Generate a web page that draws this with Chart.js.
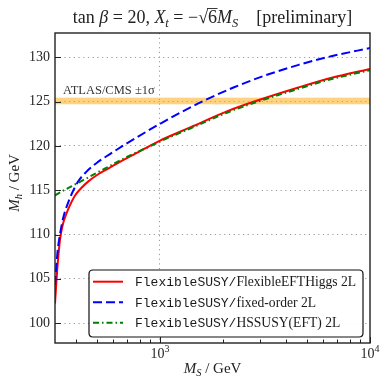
<!DOCTYPE html>
<html><head><meta charset="utf-8">
<script src="https://cdn.jsdelivr.net/npm/chart.js@4.4.1/dist/chart.umd.min.js"></script>
<style>html,body{margin:0;padding:0;background:#fff;}#wrap{width:380px;height:378px;position:relative;}</style>
</head><body><div id="wrap"><canvas id="c" width="380" height="378"></canvas></div>
<script>
// ---- data ----
const msRed   = [316.2, 324, 334, 346, 359, 366, 394, 424, 456, 508, 567, 657, 746, 848, 1000, 1245, 1442, 2080, 2884, 4560, 6574, 10000];
const mhRed   = [102.2, 106.0, 109.4, 111.3, 112.4, 112.9, 114.4, 115.3, 116.0, 116.8, 117.45, 118.3, 119.0, 119.72, 120.6, 121.6, 122.25, 123.9, 125.1, 126.6, 127.7, 128.7];
const msBlue  = [316.2, 325, 335, 347, 360, 380, 408, 447, 501, 575, 708, 1000, 1259, 1585, 2239, 3162, 4571, 6607, 10000];
const mhBlue  = [104.3, 108.0, 110.2, 112.0, 113.2, 114.6, 116.0, 117.1, 118.1, 119.05, 120.4, 122.5, 123.8, 125.0, 126.6, 127.95, 129.15, 130.15, 131.05];
const msGreen = [316.2, 340, 394, 456, 508, 578, 657, 746, 848, 1000, 1442, 2080, 2884, 4560, 6574, 10000];
const mhGreen = [114.4, 114.85, 115.65, 116.45, 117.05, 117.75, 118.45, 119.1, 119.7, 120.5, 122.12, 123.75, 124.95, 126.45, 127.55, 128.55];
const yTicks  = [100, 105, 110, 115, 120, 125, 130];
const xMajor  = [1000, 10000];
const xMajorExp = ['3', '4'];
const xMinor  = [400, 500, 600, 700, 800, 900, 2000, 3000, 4000, 5000, 6000, 7000, 8000, 9000];
const bandLow = 124.7, bandHigh = 125.45;
const bandLabel = 'ATLAS/CMS \u00b11\u03c3';
const legendPrefix = 'FlexibleSUSY/';
const legendNames = ['FlexibleEFTHiggs 2L', 'fixed-order 2L', 'HSSUSY(EFT) 2L'];
const xMin = 316.228, xMax = 10000, yMin = 97.75, yMax = 132.75;

const SERIF = '"Liberation Serif", "DejaVu Serif", serif';
const MONO = '"Liberation Mono", "DejaVu Sans Mono", monospace';
const colors = ['#ff0000', '#0000ff', '#008000'];
const dashes = [[], [9, 4], [6, 3, 1.5, 3]];

function pts(xs, ys) { return xs.map((x, i) => ({x: x, y: ys[i]})); }

function drawRich(ctx, segs, x, y, align) {
  let w = 0;
  segs.forEach(s => { ctx.font = s.font; s.w = ctx.measureText(s.t).width; w += s.w; });
  let cx = align === 'center' ? x - w / 2 : (align === 'right' ? x - w : x);
  ctx.textAlign = 'left'; ctx.textBaseline = 'alphabetic';
  segs.forEach(s => {
    ctx.font = s.font;
    ctx.fillText(s.t, cx, y + (s.dy || 0));
    if (s.over) {
      ctx.save(); ctx.lineWidth = 0.9; ctx.strokeStyle = ctx.fillStyle;
      ctx.beginPath(); ctx.moveTo(cx - 1, y - s.over); ctx.lineTo(cx + s.w + 0.5, y - s.over); ctx.stroke(); ctx.restore();
    }
    cx += s.w;
  });
}

const decor = {
  id: 'decor',
  beforeDatasetsDraw(chart) {
    const {ctx, chartArea: a, scales: {y}} = chart;
    const y1 = y.getPixelForValue(bandHigh), y2 = y.getPixelForValue(bandLow);
    ctx.save();
    ctx.fillStyle = 'rgba(255,165,0,0.5)';
    ctx.fillRect(a.left, y1, a.right - a.left, y2 - y1);
    ctx.fillStyle = '#333';
    ctx.font = '12.5px ' + SERIF;
    ctx.textAlign = 'left'; ctx.textBaseline = 'alphabetic';
    ctx.fillText(bandLabel, a.left + 8, y1 - 3.8);
    ctx.restore();
  },
  afterDatasetsDraw(chart) {
    const {ctx, chartArea: a, scales: {x, y}} = chart;
    ctx.save();
    // frame
    ctx.strokeStyle = '#222'; ctx.lineWidth = 1.4;
    ctx.strokeRect(a.left, a.top, a.right - a.left, a.bottom - a.top);
    // inward ticks
    ctx.lineWidth = 1;
    ctx.beginPath();
    xMajor.forEach(v => { const px = Math.round(x.getPixelForValue(v)) + 0.5; ctx.moveTo(px, a.bottom); ctx.lineTo(px, a.bottom - 6); });
    xMinor.forEach(v => { const px = Math.round(x.getPixelForValue(v)) + 0.5; ctx.moveTo(px, a.bottom); ctx.lineTo(px, a.bottom - 3.5); });
    yTicks.forEach(v => { const py = Math.round(y.getPixelForValue(v)) + 0.5; ctx.moveTo(a.left, py); ctx.lineTo(a.left + 6, py); });
    ctx.stroke();
    // x tick labels
    ctx.fillStyle = '#262626';
    xMajor.forEach((v, i) => {
      const px = x.getPixelForValue(v);
      drawRich(ctx, [{t: '10', font: '14px ' + SERIF}, {t: xMajorExp[i], font: '10px ' + SERIF, dy: -6}], px, 358, 'center');
    });
    // axis titles
    ctx.fillStyle = '#222';
    drawRich(ctx, [
      {t: 'M', font: 'italic 15px ' + SERIF},
      {t: 'S', font: 'italic 10.5px ' + SERIF, dy: 3},
      {t: ' / GeV', font: '15px ' + SERIF}
    ], (a.left + a.right) / 2, 373, 'center');
    ctx.save();
    ctx.translate(19, 183); ctx.rotate(-Math.PI / 2);
    drawRich(ctx, [
      {t: 'M', font: 'italic 15px ' + SERIF},
      {t: 'h', font: 'italic 10.5px ' + SERIF, dy: 3},
      {t: ' / GeV', font: '15px ' + SERIF}
    ], 0, 0, 'center');
    ctx.restore();
    // title
    drawRich(ctx, [
      {t: 'tan ', font: '18px ' + SERIF},
      {t: '\u03b2', font: 'italic 18px ' + SERIF},
      {t: ' = 20, ', font: '18px ' + SERIF},
      {t: 'X', font: 'italic 18px ' + SERIF},
      {t: 't', font: 'italic 12.5px ' + SERIF, dy: 3.5},
      {t: ' = \u2212\u221a', font: '18px ' + SERIF},
      {t: '6', font: '18px ' + SERIF, over: 14.5},
      {t: 'M', font: 'italic 18px ' + SERIF},
      {t: 'S', font: 'italic 12.5px ' + SERIF, dy: 3.5},
      {t: '    [preliminary]', font: '18px ' + SERIF}
    ], (a.left + a.right) / 2, 23, 'center');
    // legend
    const lx = 89, ly = 270, lw = 274, lh = 67, r = 4;
    ctx.beginPath();
    ctx.moveTo(lx + r, ly); ctx.lineTo(lx + lw - r, ly); ctx.quadraticCurveTo(lx + lw, ly, lx + lw, ly + r);
    ctx.lineTo(lx + lw, ly + lh - r); ctx.quadraticCurveTo(lx + lw, ly + lh, lx + lw - r, ly + lh);
    ctx.lineTo(lx + r, ly + lh); ctx.quadraticCurveTo(lx, ly + lh, lx, ly + lh - r);
    ctx.lineTo(lx, ly + r); ctx.quadraticCurveTo(lx, ly, lx + r, ly); ctx.closePath();
    ctx.fillStyle = 'rgba(255,255,255,0.92)'; ctx.fill();
    ctx.strokeStyle = '#111'; ctx.lineWidth = 1.2; ctx.stroke();
    const rows = [281.7, 302.3, 322.7];
    legendNames.forEach((name, i) => {
      ctx.save();
      ctx.strokeStyle = colors[i]; ctx.lineWidth = 2; ctx.setLineDash(dashes[i]);
      ctx.beginPath(); ctx.moveTo(93, rows[i]); ctx.lineTo(123, rows[i]); ctx.stroke();
      ctx.restore();
      ctx.fillStyle = '#1a1a1a';
      drawRich(ctx, [{t: legendPrefix, font: '13px ' + MONO}, {t: name, font: '13.6px ' + SERIF}], 135, rows[i] + 4.5, 'left');
    });
    ctx.restore();
  }
};

const cfg = {
  type: 'line',
  data: {
    datasets: [
      {label: legendPrefix + legendNames[0], data: pts(msRed, mhRed), borderColor: colors[0], borderWidth: 2, borderDash: dashes[0], order: 3},
      {label: legendPrefix + legendNames[1], data: pts(msBlue, mhBlue), borderColor: colors[1], borderWidth: 2, borderDash: dashes[1], order: 2},
      {label: legendPrefix + legendNames[2], data: pts(msGreen, mhGreen), borderColor: colors[2], borderWidth: 2, borderDash: dashes[2], order: 1}
    ].map(d => Object.assign(d, {pointRadius: 0, fill: false, cubicInterpolationMode: 'monotone', borderCapStyle: 'butt'}))
  },
  options: {
    responsive: false, animation: false, devicePixelRatio: 1,
    layout: {padding: {left: 0, right: 10, top: 33, bottom: 0}},
    plugins: {legend: {display: false}, title: {display: false}, tooltip: {enabled: false}},
    scales: {
      x: {
        type: 'logarithmic', min: xMin, max: xMax,
        afterBuildTicks: s => { s.ticks = [{value: 1000}]; },
        afterFit: s => { s.height = 35; },
        ticks: {display: false},
        grid: {color: '#9a9a9a', lineWidth: 1, drawTicks: false},
        border: {display: false, dash: [1.2, 3.5]}
      },
      y: {
        type: 'linear', min: yMin, max: yMax,
        afterBuildTicks: s => { s.ticks = yTicks.map(v => ({value: v})); },
        afterFit: s => { s.width = 55; },
        ticks: {padding: 5, color: '#262626', font: {family: SERIF, size: 14}, callback: v => String(v)},
        grid: {color: '#9a9a9a', lineWidth: 1, drawTicks: false},
        border: {display: false, dash: [1.2, 3.5]}
      }
    }
  },
  plugins: [decor]
};
new Chart(document.getElementById('c'), cfg);
</script></body></html>
